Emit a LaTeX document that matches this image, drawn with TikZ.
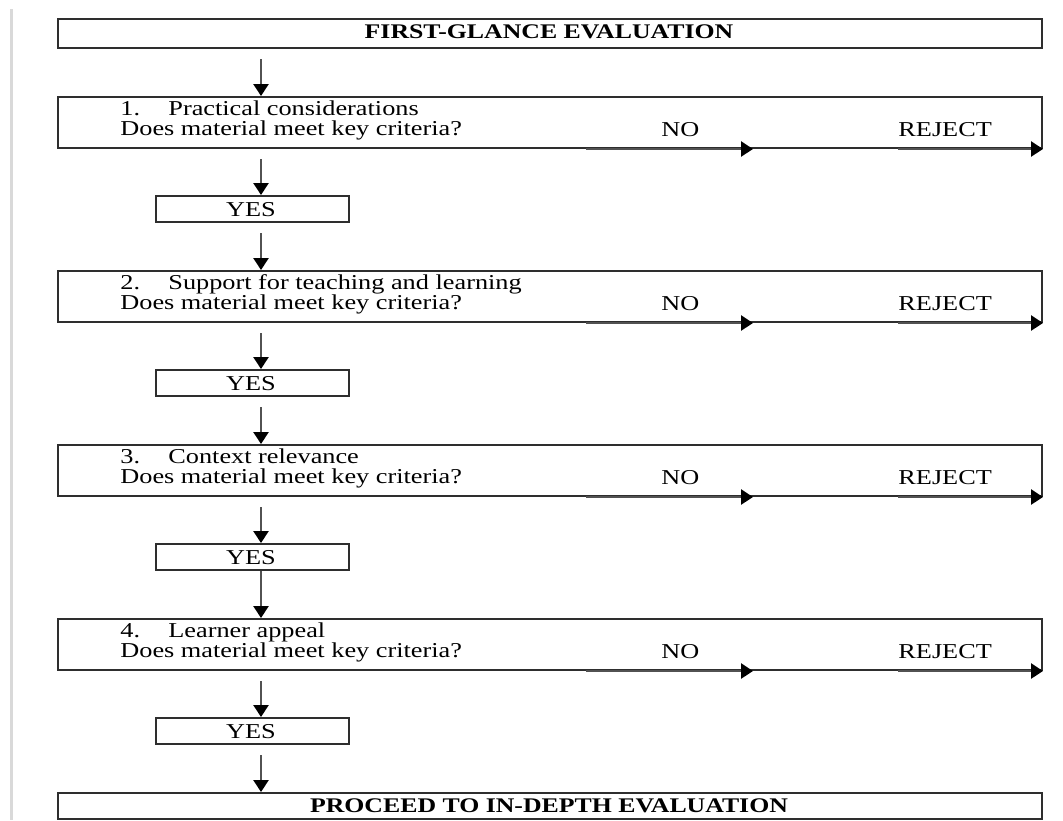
\documentclass[tikz,border=0pt]{standalone}
\usepackage{fontspec}
\setmainfont[FakeStretch=1.24]{Liberation Serif}
\usetikzlibrary{arrows.meta}
\begin{document}
\begin{tikzpicture}[x=0.5pt,y=-0.5pt,
  box/.style={draw=black!82, line width=1pt, rectangle, inner sep=0pt, anchor=north west, minimum width=492pt},
  txt/.style={inner sep=0pt, anchor=base west, font=\fontsize{10.6}{12}\selectfont},
  arr/.style={draw=black!68, line width=1.3pt, -{Triangle[length=6pt,width=7.5pt,color=black]}}
]
\useasboundingbox (0,0) rectangle (1063,820);
\draw[black!15, line width=1.5pt] (11,9) -- (11,820);
\coordinate (ax) at (261,0);
\coordinate (nos) at (586,0);
\coordinate (noe) at (753,0);
\coordinate (rjs) at (898,0);

\node[box, minimum height=14.5pt] (top) at (57,18) {};
\node[txt, anchor=base, font=\fontsize{10.4}{12}\selectfont\bfseries] (toptxt) at (549,38) {FIRST-GLANCE EVALUATION};

\foreach \k/\t/\ttl in {1/96/Practical considerations, 2/270/Support for teaching and learning, 3/444/Context relevance, 4/618/Learner appeal}{
  \node[box, minimum height=25.5pt] (box\k) at (57,\t) {};
  \node[txt] (num\k) at (120,\t+19) {\k.};
  \node[txt] (ttl\k) at (168,\t+19) {\ttl};
  \node[txt] (q\k) at (120,\t+39) {Does material meet key criteria?};
  \node[txt] (no\k) at (661,\t+40) {NO};
  \node[txt] (rj\k) at (898,\t+40) {REJECT};
  \node[box, minimum width=96.5pt, minimum height=13pt] (yes\k) at (155,\t+99) {};
  \node[txt, anchor=base] (yt\k) at (251,\t+120) {YES};
  \draw[arr] ([yshift=-5pt]box\k.south -| ax) -- (yes\k.north -| ax);
  \draw[arr] (box\k.south -| nos) -- (box\k.south -| noe);
  \draw[arr] (box\k.south -| rjs) -- (box\k.south east);
}

\node[box, minimum height=13pt] (fin) at (57,792) {};
\node[txt, anchor=base, font=\fontsize{10.4}{12}\selectfont\bfseries] (fintxt) at (549,812) {PROCEED TO IN-DEPTH EVALUATION};

\draw[arr] ([yshift=-5pt]top.south -| ax) -- (box1.north -| ax);
\draw[arr] ([yshift=-5pt]yes1.south -| ax) -- (box2.north -| ax);
\draw[arr] ([yshift=-5pt]yes2.south -| ax) -- (box3.north -| ax);
\draw[arr] (yes3.south -| ax) -- (box4.north -| ax);
\draw[arr] ([yshift=-5pt]yes4.south -| ax) -- (fin.north -| ax);
\end{tikzpicture}
\end{document}
